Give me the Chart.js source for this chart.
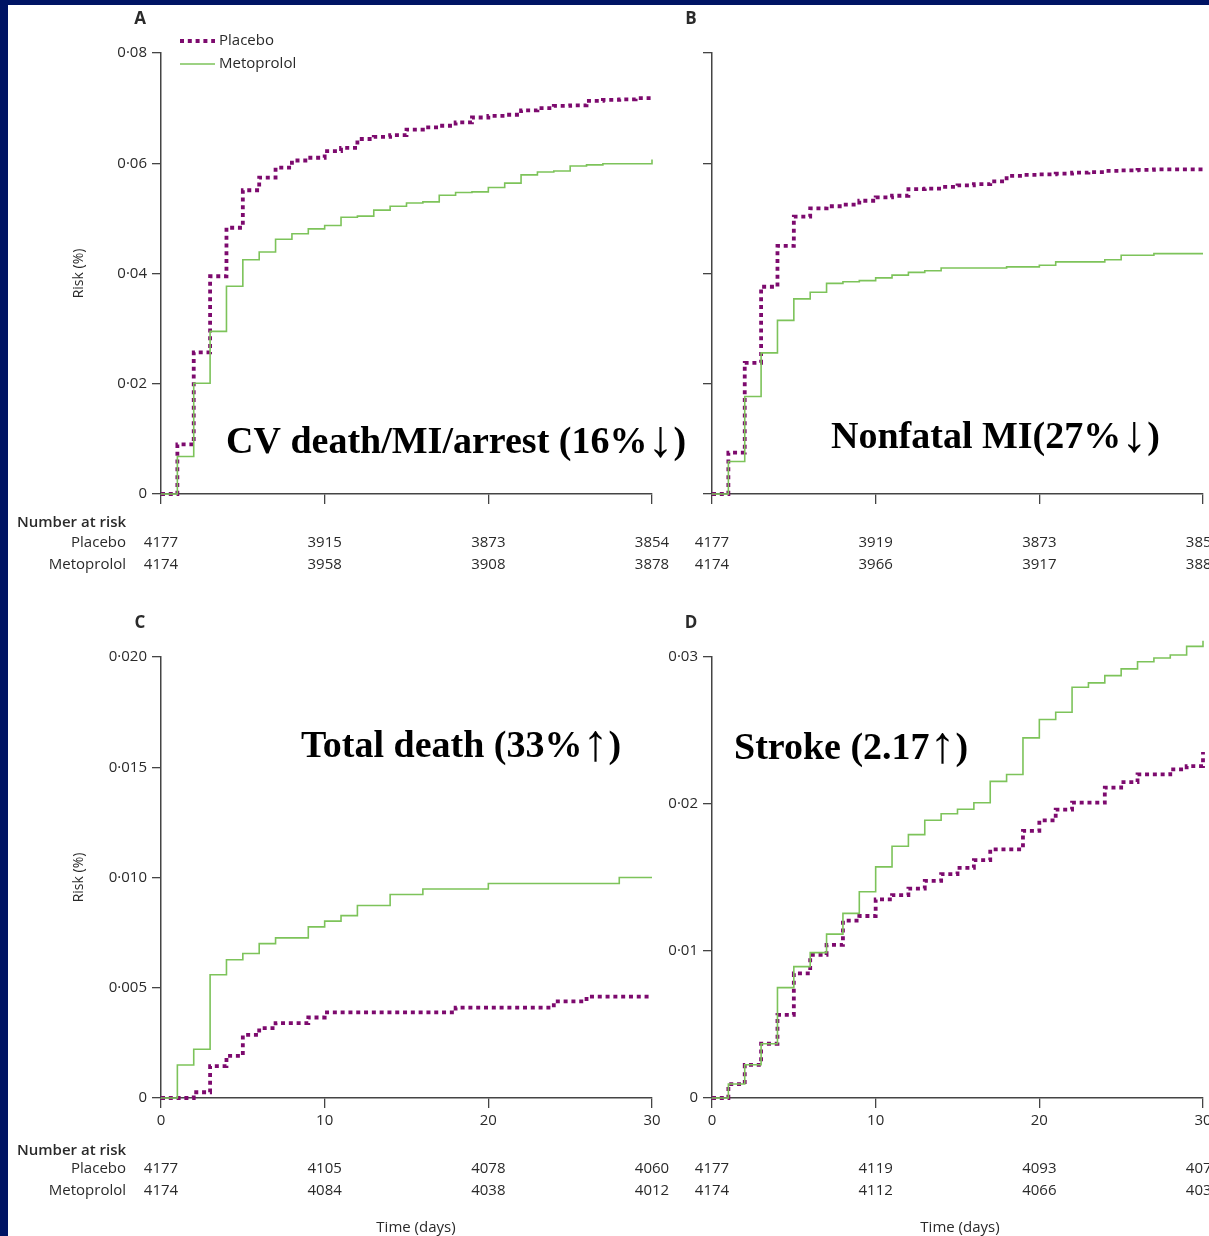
<!DOCTYPE html>
<html>
<head>
<meta charset="utf-8">
<title>POISE – Kaplan-Meier curves</title>
<script src="https://cdn.jsdelivr.net/npm/chart.js@4.4.1/dist/chart.umd.min.js"></script>
<style>
    html, body { margin: 0; padding: 0; width: 1209px; height: 1236px; overflow: hidden; background: #001464; }
    #sheet { position: absolute; left: 8px; top: 5px; right: 0; bottom: 0; background: #fff; }
    canvas { position: absolute; }
</style>
</head>
<body>
<div id="sheet"></div>
<canvas id="panel-a" width="690" height="632" style="left:0;top:0"></canvas>
<canvas id="panel-b" width="690" height="632" style="left:551px;top:0"></canvas>
<canvas id="panel-c" width="690" height="632" style="left:0;top:604px"></canvas>
<canvas id="panel-d" width="690" height="632" style="left:551px;top:604px"></canvas>
<script>
// Cumulative risk by day (0-30)

const days = [0, 1, 2, 3, 4, 5, 6, 7, 8, 9, 10, 11, 12, 13, 14, 15, 16, 17, 18, 19, 20, 21, 22, 23, 24, 25, 26, 27, 28, 29, 30];
const riskDays = [0, 10, 20, 30];

// A: CV death / MI / arrest
const placeboA = [0, 0.0090, 0.0257, 0.0395, 0.0483, 0.0551, 0.0574, 0.0592, 0.0605, 0.0610, 0.0622, 0.0628, 0.0644, 0.0648, 0.0651, 0.0661,
    0.0665, 0.0668, 0.0674, 0.0683, 0.0686, 0.0688, 0.0696, 0.0700, 0.0704, 0.0705, 0.0713, 0.0715, 0.0716, 0.0718, 0.0719];
const metoprololA = [0, 0.0068, 0.0201, 0.0295, 0.0377, 0.0425, 0.0439, 0.0462, 0.0472, 0.0481, 0.0487, 0.0502, 0.0504, 0.0515, 0.0522, 0.0528,
    0.0530, 0.0542, 0.0547, 0.0548, 0.0556, 0.0564, 0.0579, 0.0584, 0.0586, 0.0595, 0.0597, 0.0599, 0.0599, 0.0599, 0.0607];
const riskPlaceboA = [4177, 3915, 3873, 3854];
const riskMetoprololA = [4174, 3958, 3908, 3878];

// B: nonfatal MI
const placeboB = [0, 0.0075, 0.0238, 0.0376, 0.0450, 0.0503, 0.0518, 0.0522, 0.0525, 0.0532, 0.0538, 0.0541, 0.0553, 0.0554, 0.0557, 0.0560,
    0.0562, 0.0567, 0.0577, 0.0579, 0.0580, 0.0581, 0.0583, 0.0584, 0.0586, 0.0587, 0.0588, 0.0589, 0.0589, 0.0589, 0.0589];
const metoprololB = [0, 0.0059, 0.0177, 0.0256, 0.0315, 0.0354, 0.0366, 0.0382, 0.0385, 0.0387, 0.0392, 0.0397, 0.0402, 0.0405, 0.0410, 0.0410,
    0.0410, 0.0410, 0.0412, 0.0412, 0.0415, 0.0421, 0.0421, 0.0421, 0.0425, 0.0433, 0.0433, 0.0436, 0.0436, 0.0436, 0.0436];
const riskPlaceboB = [4177, 3919, 3873, 3858];
const riskMetoprololB = [4174, 3966, 3917, 3885];

// C: total death
const placeboC = [0, 0, 0.00026, 0.00145, 0.00191, 0.00286, 0.00317, 0.00340, 0.00340, 0.00365, 0.00388, 0.00388, 0.00388, 0.00388, 0.00388, 0.00388,
    0.00388, 0.00388, 0.00410, 0.00410, 0.00410, 0.00410, 0.00410, 0.00410, 0.00438, 0.00438, 0.00460, 0.00460, 0.00460, 0.00460, 0.00460];
const metoprololC = [0, 0.00150, 0.00221, 0.00559, 0.00627, 0.00655, 0.00700, 0.00726, 0.00726, 0.00776, 0.00802, 0.00827, 0.00873, 0.00873, 0.00923, 0.00923,
    0.00948, 0.00948, 0.00948, 0.00948, 0.00973, 0.00973, 0.00973, 0.00973, 0.00973, 0.00973, 0.00973, 0.00973, 0.01000, 0.01000, 0.01000];
const riskPlaceboC = [4177, 4105, 4078, 4060];
const riskMetoprololC = [4174, 4084, 4038, 4012];

// D: stroke
const placeboD = [0, 0.00095, 0.00226, 0.00369, 0.00566, 0.00848, 0.00973, 0.01041, 0.01206, 0.01238, 0.01351, 0.01380, 0.01425, 0.01477, 0.01523, 0.01566,
    0.01618, 0.01692, 0.01692, 0.01817, 0.01889, 0.01962, 0.02009, 0.02009, 0.02111, 0.02149, 0.02201, 0.02201, 0.02235, 0.02258, 0.02353];
const metoprololD = [0, 0.00095, 0.00226, 0.00369, 0.00751, 0.00894, 0.00989, 0.01115, 0.01256, 0.01403, 0.01572, 0.01713, 0.01792, 0.01889, 0.01934, 0.01964,
    0.02009, 0.02154, 0.02201, 0.02450, 0.02575, 0.02624, 0.02794, 0.02824, 0.02873, 0.02919, 0.02968, 0.02993, 0.03014, 0.03072, 0.03110];
const riskPlaceboD = [4177, 4119, 4093, 4075];
const riskMetoprololD = [4174, 4112, 4066, 4034];

const PURPLE = '#7d0a6e';
const GREEN = '#7dc35a';
const AXIS = '#444';
const INK = '#2a2a2a';
const SANS = '"Open Sans", "Liberation Sans", sans-serif';
const SERIF = '"Liberation Serif", "DejaVu Serif", serif';
const ARROW_FONT = 'bold 52px "Liberation Serif", serif';

// Layout inside each 690x632 canvas (chart area 161..652 x 53..494)
const PAD_LEFT = 67;
const AXIS_LEFT = 161;
const X_AXIS_HEIGHT = 40;

// Format 0.08 as the journal does: 0·08
function journalNumber(v, decimals) {
    if (Math.abs(v) < 1e-9) return '0';
    return v.toFixed(decimals).replace('.', '\u00b7');
}

function toPoints(values) {
    return values.map((v, i) => ({ x: days[i], y: v }));
}

// Headline in bold serif; the arrows are set larger so they reach cap height
function drawNote(ctx, text, x, y) {
    const parts = text.split(/([\u2191\u2193])/);
    parts.forEach(part => {
        if (!part) return;
        const isArrow = /[\u2191\u2193]/.test(part);
        ctx.font = isArrow ? ARROW_FONT : 'bold 38px ' + SERIF;
        ctx.fillText(part, x, isArrow ? y + 3 : y);
        x += ctx.measureText(part).width;
    });
}

// Text that Chart.js does not place for us: panel letter, headline, numbers at risk, legend
const panelText = {
    id: 'panelText',
    afterDraw(chart, args, opts) {
        const ctx = chart.ctx;
        const xScale = chart.scales.x;
        ctx.save();

        ctx.fillStyle = INK;
        ctx.font = '700 17px ' + SANS;
        ctx.textAlign = 'center';
        ctx.textBaseline = 'middle';
        ctx.fillText(opts.letter, 140, 19);

        ctx.fillStyle = '#000';
        ctx.textAlign = 'left';
        ctx.textBaseline = 'alphabetic';
        drawNote(ctx, opts.note, opts.noteX, opts.noteY);

        ctx.fillStyle = INK;
        ctx.textBaseline = 'middle';
        if (opts.rowLabels) {
            ctx.font = '600 15px ' + SANS;
            ctx.textAlign = 'left';
            ctx.fillText('Number at risk', 17, opts.tableY[0]);
            ctx.font = '15px ' + SANS;
            ctx.textAlign = 'right';
            ctx.fillText('Placebo', 126, opts.tableY[1]);
            ctx.fillText('Metoprolol', 126, opts.tableY[2]);
        }
        ctx.font = '15px ' + SANS;
        ctx.textAlign = 'center';
        opts.risk.forEach((row, r) => {
            row.forEach((n, i) => {
                ctx.fillText(String(n), xScale.getPixelForValue(riskDays[i]), opts.tableY[r + 1]);
            });
        });

        if (opts.timeX) {
            ctx.fillText('Time (days)', opts.timeX, 624);
        }

        if (opts.legend) {
            const order = [1, 0]; // placebo first, as in the figure
            order.forEach((di, k) => {
                const ds = chart.data.datasets[di];
                const y = 41 + k * 23;
                ctx.strokeStyle = ds.borderColor;
                ctx.lineWidth = ds.borderWidth;
                ctx.setLineDash(ds.borderDash || []);
                ctx.beginPath();
                ctx.moveTo(180, y);
                ctx.lineTo(215, y);
                ctx.stroke();
                ctx.fillStyle = INK;
                ctx.textAlign = 'left';
                ctx.fillText(ds.label, 219, y);
            });
        }
        ctx.restore();
    }
};

function makePanel(id, p) {
    const ctx = document.getElementById(id);
    return new Chart(ctx, {
        type: 'line',
        data: {
            datasets: [{
                label: 'Metoprolol',
                data: toPoints(p.metoprolol),
                borderColor: GREEN,
                borderWidth: 1.6,
                stepped: true,
                pointRadius: 0,
                fill: false,
                clip: false,
                order: 0
            }, {
                label: 'Placebo',
                data: toPoints(p.placebo),
                borderColor: PURPLE,
                borderWidth: 3.8,
                borderDash: [4, 3.8],
                stepped: true,
                pointRadius: 0,
                fill: false,
                clip: false,
                order: 1
            }]
        },
        options: {
            responsive: false,
            devicePixelRatio: 1,
            animation: false,
            events: [],
            layout: {
                padding: { left: PAD_LEFT, top: 53, right: 38, bottom: 632 - 494 - X_AXIS_HEIGHT }
            },
            plugins: {
                legend: { display: false },
                tooltip: { enabled: false },
                panelText: p.text
            },
            scales: {
                x: {
                    type: 'linear',
                    min: 0,
                    max: 30,
                    afterFit: s => { s.height = X_AXIS_HEIGHT; },
                    ticks: {
                        stepSize: 10,
                        padding: 4,
                        color: INK,
                        font: { family: SANS, size: 15 },
                        callback: v => p.xLabels ? String(v) : ''
                    },
                    grid: { drawOnChartArea: false, drawTicks: true, tickLength: 10, color: AXIS, lineWidth: 1.3 },
                    border: { display: true, color: AXIS, width: 1.5 }
                },
                y: {
                    min: 0,
                    max: p.yMax,
                    afterFit: s => { s.width = AXIS_LEFT - PAD_LEFT; },
                    ticks: {
                        stepSize: p.yStep,
                        padding: 5,
                        color: INK,
                        font: { family: SANS, size: 15 },
                        callback: v => p.yLabels ? journalNumber(v, p.yDecimals) : ''
                    },
                    grid: { drawOnChartArea: false, drawTicks: true, tickLength: 9, color: AXIS, lineWidth: 1.3 },
                    border: { display: true, color: AXIS, width: 1.5 },
                    title: {
                        display: p.yTitle,
                        text: 'Risk (%)',
                        color: INK,
                        font: { family: SANS, size: 14 },
                        padding: { top: 4, bottom: 4 }
                    }
                }
            }
        },
        plugins: [panelText]
    });
}

function initializeFigure() {
    makePanel('panel-a', {
        placebo: placeboA, metoprolol: metoprololA,
        yMax: 0.08, yStep: 0.02, yDecimals: 2, yLabels: true, yTitle: true, xLabels: false,
        text: {
            letter: 'A', note: 'CV death/MI/arrest (16%\u2193)', noteX: 226, noteY: 453,
            rowLabels: true, tableY: [523, 543, 565], risk: [riskPlaceboA, riskMetoprololA], legend: true
        }
    });
    makePanel('panel-b', {
        placebo: placeboB, metoprolol: metoprololB,
        yMax: 0.08, yStep: 0.02, yDecimals: 2, yLabels: false, yTitle: false, xLabels: false,
        text: {
            letter: 'B', note: 'Nonfatal MI(27%\u2193)', noteX: 280, noteY: 448,
            rowLabels: false, tableY: [523, 543, 565], risk: [riskPlaceboB, riskMetoprololB]
        }
    });
    makePanel('panel-c', {
        placebo: placeboC, metoprolol: metoprololC,
        yMax: 0.02, yStep: 0.005, yDecimals: 3, yLabels: true, yTitle: true, xLabels: true,
        text: {
            letter: 'C', note: 'Total death (33%\u2191)', noteX: 301, noteY: 153,
            rowLabels: true, tableY: [547, 565, 587], risk: [riskPlaceboC, riskMetoprololC], timeX: 416
        }
    });
    makePanel('panel-d', {
        placebo: placeboD, metoprolol: metoprololD,
        yMax: 0.03, yStep: 0.01, yDecimals: 2, yLabels: true, yTitle: false, xLabels: true,
        text: {
            letter: 'D', note: 'Stroke (2.17\u2191)', noteX: 183, noteY: 155,
            rowLabels: false, tableY: [547, 565, 587], risk: [riskPlaceboD, riskMetoprololD], timeX: 409
        }
    });
}

document.addEventListener('DOMContentLoaded', function () {
    Promise.all([
        document.fonts.load('15px "Open Sans"'),
        document.fonts.load('600 15px "Open Sans"'),
        document.fonts.load('bold 38px "Liberation Serif"')
    ]).catch(() => {}).then(initializeFigure);
});
</script>
</body>
</html>
